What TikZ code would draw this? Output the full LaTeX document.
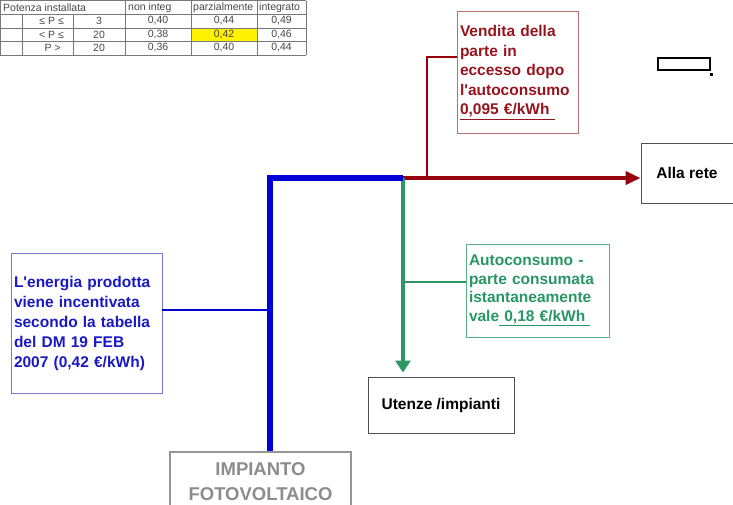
\documentclass[tikz,border=0pt]{standalone}
\usepackage{fontspec}
\setmainfont{Liberation Sans}
\usetikzlibrary{arrows.meta}
\definecolor{bline}{RGB}{0,0,215}
\definecolor{btext}{RGB}{25,25,195}
\definecolor{bbord}{RGB}{120,120,215}
\definecolor{rline}{RGB}{150,0,10}
\definecolor{rtext}{RGB}{150,20,30}
\definecolor{rbord}{RGB}{190,110,110}
\definecolor{gline}{RGB}{45,150,100}
\definecolor{gtext}{RGB}{40,150,100}
\definecolor{gbord}{RGB}{90,175,135}
\definecolor{graybord}{RGB}{150,150,150}
\definecolor{graytext}{RGB}{140,140,140}
\definecolor{darkbord}{RGB}{80,80,80}
\definecolor{tabline}{RGB}{120,120,120}
\definecolor{tabtxt}{RGB}{70,70,70}
\begin{document}
\begin{tikzpicture}[x=1pt,y=-1pt,
  tabtext/.style={inner sep=0pt, text=tabtxt, font=\fontsize{10.5}{12}\selectfont},
  tabgrid/.style={draw=tabline, line width=0.6pt},
  labelbox/.style={rectangle, inner sep=3pt, align=left, line width=1pt,
     font=\fontsize{15.5}{19.5}\selectfont\bfseries},
  redbox/.style={labelbox, draw=rbord, text=rtext},
  bluebox/.style={labelbox, draw=bbord, text=btext, font=\fontsize{15.5}{20}\selectfont\bfseries},
  greenbox/.style={labelbox, draw=gbord, text=gtext, font=\fontsize{15.5}{18.5}\selectfont\bfseries},
  darkbox/.style={rectangle, draw=darkbord, line width=1pt, inner sep=3pt, align=center,
     font=\fontsize{15.5}{19}\selectfont\bfseries},
  graybox/.style={rectangle, draw=graybord, line width=1.5pt, inner sep=3pt, align=center,
     text=graytext, font=\fontsize{18.5}{25}\selectfont\bfseries},
  blueline/.style={draw=bline, line width=5.5pt, line join=miter},
  bluethin/.style={draw=bline, line width=2pt},
  redline/.style={draw=rline, line width=4pt, -{Triangle[length=15pt,width=13pt]}},
  redthin/.style={draw=rline, line width=2.5pt},
  greenline/.style={draw=gline, line width=3.5pt, -{Triangle[length=12pt,width=15pt]}},
  greenthin/.style={draw=gline, line width=2.5pt}
]
\useasboundingbox (0,0) rectangle (733,504);

% ---- table ----
\fill[yellow] (191,28) rectangle (257,41);
\draw[tabgrid] (0,0.5) -- (306,0.5);
\draw[tabgrid] (0,14) -- (306,14);
\draw[tabgrid] (0,28) -- (306,28);
\draw[tabgrid] (0,41) -- (306,41);
\draw[tabgrid] (0,55) -- (306,55);
\draw[tabgrid] (0.5,0.5) -- (0.5,55);
\draw[tabgrid] (22,14) -- (22,55);
\draw[tabgrid] (73,14) -- (73,55);
\draw[tabgrid] (125,0.5) -- (125,55);
\draw[tabgrid] (191,0.5) -- (191,55);
\draw[tabgrid] (257,0.5) -- (257,55);
\draw[tabgrid] (306,0.5) -- (306,55);

\node[tabtext, anchor=west] (th1) at (3,7.5) {Potenza installata};
\node[tabtext, anchor=west] (th2) at (128,7.5) {non integ};
\node[tabtext, anchor=west] (th3) at (193,7.5) {parzialmente};
\node[tabtext, anchor=west] (th4) at (259,7.5) {integrato};

\node[tabtext, anchor=east] (r1a) at (64,21) {≤ P ≤};
\node[tabtext] (r1b) at (99,21) {3};
\node[tabtext] (r1c) at (158,21) {0,40};
\node[tabtext] (r1d) at (224,21) {0,44};
\node[tabtext] (r1e) at (281.5,21) {0,49};

\node[tabtext, anchor=east] (r2a) at (64,34.5) {< P ≤};
\node[tabtext] (r2b) at (99,34.5) {20};
\node[tabtext] (r2c) at (158,34.5) {0,38};
\node[tabtext] (r2d) at (224,34.5) {0,42};
\node[tabtext] (r2e) at (281.5,34.5) {0,46};

\node[tabtext, anchor=east] (r3a) at (61,48) {P >};
\node[tabtext] (r3b) at (99,48) {20};
\node[tabtext] (r3c) at (158,48) {0,36};
\node[tabtext] (r3d) at (224,48) {0,40};
\node[tabtext] (r3e) at (281.5,48) {0,44};

% ---- small rectangle ----
\node[draw=black, line width=2pt, minimum width=52, minimum height=12, inner sep=0pt] (smallbox) at (684,64) {};
\fill[black] ([xshift=-1.5pt,yshift=-1.5pt]smallbox.south east) rectangle ++(3,3);

% ---- boxes ----
\node[redbox, text width=115, minimum height=122] (vendita) at (517.5,72.5)
  {Vendita della\\parte in\\eccesso dopo\\l\textquotesingle autoconsumo\\\underline{0,095 €/kWh\ }};
\node[darkbox, minimum width=92, minimum height=60] (rete) at (687,173) {Alla rete};
\node[bluebox, text width=145, minimum height=140] (energia) at (86.5,323)
  {L\textquotesingle energia prodotta\\viene incentivata\\secondo la tabella\\del DM 19 FEB\\2007 (0,42 €/kWh)};
\node[greenbox, text width=137, minimum height=93] (autocons) at (537.5,290.5)
  {Autoconsumo -\\parte consumata\\istantaneamente\\vale\underline{\ 0,18 €/kWh\ }};
\node[darkbox, minimum width=146, minimum height=56] (utenze) at (441,405) {Utenze /impianti};
\node[graybox, minimum width=181, minimum height=60] (impianto) at (260.5,482) {IMPIANTO\\FOTOVOLTAICO};

% ---- connectors ----
\coordinate (j1) at (270,178);
\coordinate (j2) at (403,178);
\coordinate (r1) at (427,178);
\coordinate (r2) at (427,57);
\coordinate (g1) at (403,282);
\coordinate (b1) at (162,310);

\draw[bluethin] (b1) -- (b1 -| j1);
\draw[redthin] (r1) -- (r2) -- (r2 -| vendita.west);
\draw[greenthin] (g1) -- (g1 -| autocons.west);
\draw[redline] (j2) -- (j2 -| rete.west);
\draw[greenline, shorten >=4pt] (j2) -- (j2 |- utenze.north);
\draw[blueline] (impianto.north -| j1) -- (j1) -- (j2);
\end{tikzpicture}
\end{document}
